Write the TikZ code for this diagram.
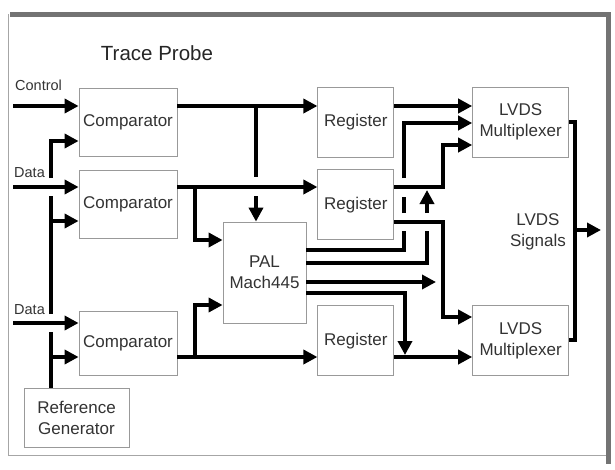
\documentclass[tikz,border=0pt]{standalone}
\usepackage{fontspec}
\setmainfont{Liberation Sans}
\usetikzlibrary{positioning,arrows.meta}

\begin{document}
\begin{tikzpicture}[x=1pt,y=-1pt,
    block/.style={draw=black!40, line width=0.8pt, inner sep=0pt,
        minimum width=98pt, minimum height=68pt, align=center,
        text=black!80, font=\fontsize{17}{21}\selectfont},
    bus/.style={line width=4pt, black},
    feed/.style={bus, -{Triangle[length=14pt,width=14pt]}},
    tag/.style={inner sep=0pt, text=black!80, font=\fontsize{14.5}{16}\selectfont}]
    \useasboundingbox[fill=white] (0,0) rectangle (615,469);
    % frame
    \draw[black!35, line width=1pt] (8,14) -- (8,455) -- (608,455);
    \draw[black!55, line width=5pt] (10,14) -- (608,14) -- (608,464);
    \node[anchor=base, text=black!85, font=\fontsize{20.5}{24}\selectfont] (title) at (157,60) {Trace Probe};

    \node[block] (comp1) at (128,122) {Comparator};
    \node[block] (comp2) [below = 14pt of comp1] {Comparator};
    \node[block, minimum height=64pt] (comp3) [below = 72pt of comp2] {Comparator};
    \node[block, minimum width=105pt, minimum height=59pt] (refgen) at (76.5,417.5) {Reference\\Generator};
    \node[block, minimum width=83pt, minimum height=101pt] (pal) at (264.5,272.5) {PAL\\Mach445};
    \node[block, minimum width=76pt, minimum height=70pt] (reg1) [right = 140pt of comp1] {Register};
    \node[block, minimum width=76pt, minimum height=70pt] (reg2) [below = 12pt of reg1] {Register};
    \node[block, minimum width=76pt, minimum height=70pt] (reg3) [below = 65pt of reg2] {Register};
    \node[block, minimum width=96pt, minimum height=70pt] (mux1) [right = 78pt of reg1] {LVDS\\Multiplexer};
    \node[block, minimum width=96pt, minimum height=70pt] (mux2) [right = 78pt of reg3] {LVDS\\Multiplexer};
    \node[block, draw=none] (signals) at (538,232) {LVDS\\Signals};

    \node[tag, anchor=base west] (ctltag) at (15,90) {Control};
    \node[tag, anchor=base west] (datatag1) at (14,177) {Data};
    \node[tag, anchor=base west] (datatag2) at (14,314) {Data};
    \coordinate (ctlin) at (13,106);
    \coordinate (din1) at (13,187);
    \coordinate (din2) at (13,323);
    \coordinate (sigout) at (601,230);

    % inputs
    \draw[feed] (ctlin) -- (comp1.west |- ctlin);
    \draw[feed] (din1) -- (comp2.west |- din1);
    \draw[feed] (din2) -- (comp3.west |- din2);
    % reference
    \draw[bus] (refgen.north -| 51,0) -- (51,332);
    \draw[bus] (51,314) -- (51,196);
    \draw[feed] (51,178) |- (comp1.west |- 0,141);
    \draw[feed] (51,221) -- (comp2.west |- 0,221);
    \draw[feed] (51,357) -- (comp3.west |- 0,357);
    % comparators
    \draw[feed] (comp1.east |- ctlin) -- (reg1.west |- ctlin);
    \draw[bus] (256,106) -- (256,177);
    \draw[feed] (256,196) -- (pal.north -| 256,0);
    \draw[feed] (comp2.east |- din1) -- (reg2.west |- din1);
    \draw[feed] (195,187) |- (pal.west |- 0,240);
    \draw[feed] (comp3.east |- 0,357) -- (reg3.west |- 0,357);
    \draw[feed] (195,357) |- (pal.west |- 0,305);
    % registers
    \draw[feed] (reg1.east |- ctlin) -- (mux1.west |- ctlin);
    \draw[feed] (reg2.east |- din1) -| (443,145) -- (mux1.west |- 0,145);
    \draw[feed] (reg2.east |- 0,222) -| (443,317) -- (mux2.west |- 0,317);
    \draw[feed] (reg3.east |- 0,357) -- (mux2.west |- 0,357);
    % PAL
    \draw[bus] (pal.east |- 0,250) -| (404,231);
    \draw[bus] (404,213) -- (404,197);
    \draw[feed] (404,178) |- (mux1.west |- 0,123);
    \draw[bus] (pal.east |- 0,263) -| (427,231);
    \draw[feed] (427,213) -- (427,190);
    \draw[feed] (pal.east |- 0,282) -- (436,282);
    \draw[feed] (pal.east |- 0,293) -| (405,355);
    % outputs
    \draw[bus] (mux1.east |- 0,122) -| (575,340) -- (mux2.east |- 0,340);
    \draw[feed] (575,230) -- (sigout);
\end{tikzpicture}
\end{document}
